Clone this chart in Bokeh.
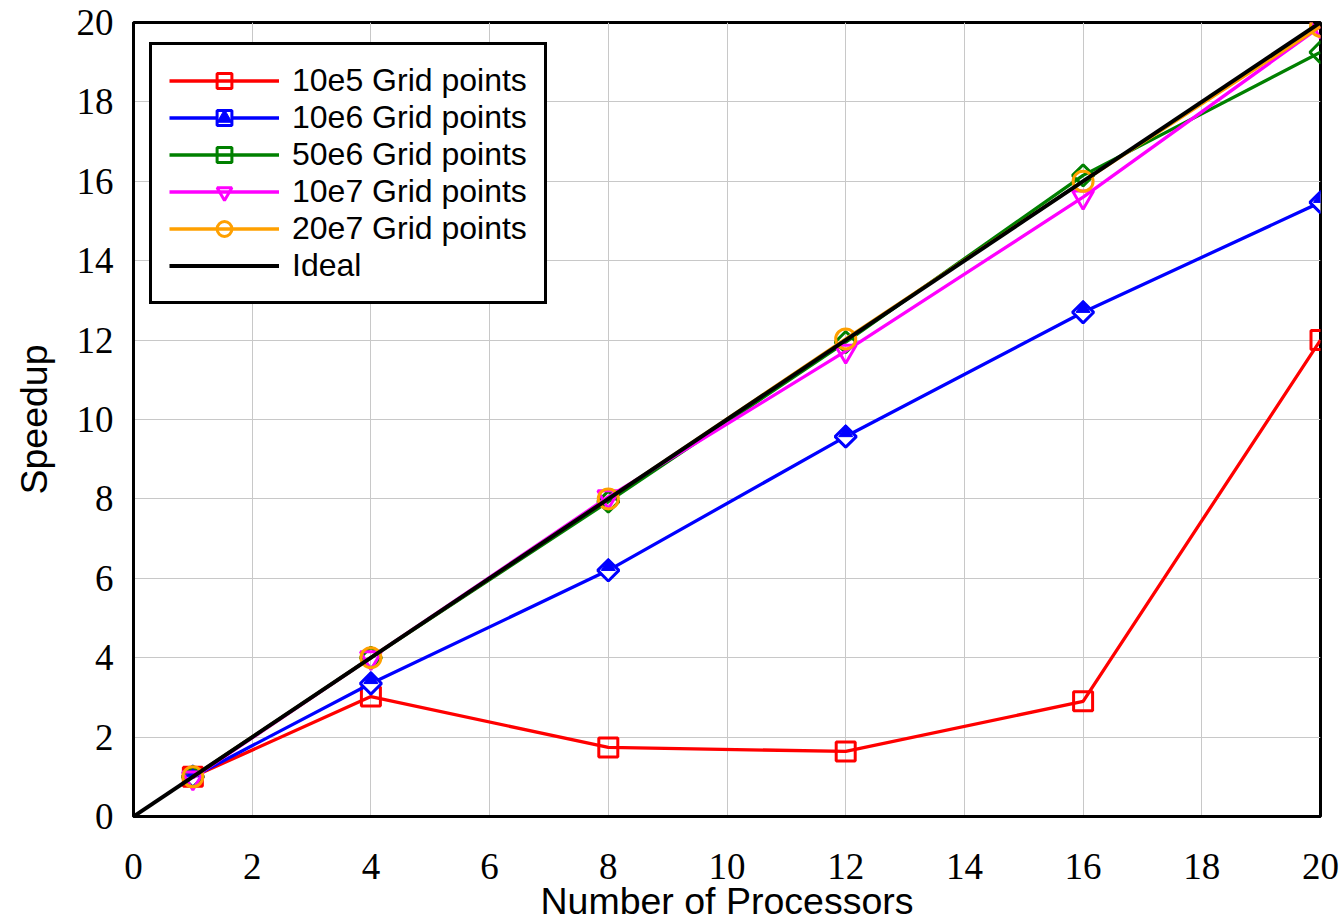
from bokeh.plotting import figure
from bokeh.models import Legend, LegendItem, FixedTicker, Range1d
from bokeh.embed import file_html
from bokeh.resources import INLINE
import math

procs = [1, 4, 8, 12, 16, 20]
s_10e5 = [1.0, 3.02, 1.74, 1.64, 2.9, 12.0]
s_10e6 = [1.0, 3.35, 6.2, 9.57, 12.7, 15.47]
s_50e6 = [1.0, 4.0, 7.93, 11.95, 16.15, 19.25]
s_10e7 = [0.97, 4.0, 8.05, 11.72, 15.6, 19.9]
s_20e7 = [1.0, 4.0, 8.0, 12.03, 16.0, 19.9]
ideal_x = [0, 20]
ideal_y = [0, 20]
ticks = list(range(0, 21, 2))

p = figure(width=1344, height=924, output_backend="svg", toolbar_location=None,
           x_range=Range1d(0, 20), y_range=Range1d(0, 20),
           min_border_left=133, min_border_right=24, min_border_top=22, min_border_bottom=108)
p.background_fill_color = "white"
p.border_fill_color = "white"
p.outline_line_color = "black"
p.outline_line_width = 3
p.outline_line_alpha = 1.0

for ax in (p.xaxis, p.yaxis):
    ax.ticker = FixedTicker(ticks=ticks)
    ax.major_tick_line_color = None
    ax.minor_tick_line_color = None
    ax.axis_line_color = "black"
    ax.axis_line_width = 3
    ax.major_label_text_font = "Liberation Serif"
    ax.major_label_text_font_size = "37px"
    ax.major_label_text_color = "black"
    ax.axis_label_text_font = "Liberation Sans"
    ax.axis_label_text_font_size = "37.5px"
    ax.axis_label_text_font_style = "normal"
    ax.axis_label_text_color = "black"

p.xaxis.axis_label = "Number of Processors"
p.yaxis.axis_label = "Speedup"
p.xaxis.major_label_standoff = 31
p.xaxis.axis_label_standoff = -2
p.yaxis.major_label_standoff = 14
p.yaxis.axis_label_standoff = 19

p.xgrid.ticker = FixedTicker(ticks=ticks)
p.ygrid.ticker = FixedTicker(ticks=ticks)
p.grid.grid_line_color = "#c8c8c8"
p.grid.grid_line_width = 1

lw = 3.3
red, blue, green, mag, orange = "#ff0000", "#0000ff", "#008000", "#ff00ff", "#ffa000"

r1l = p.line(procs, s_10e5, line_color=red, line_width=lw)
r1m = p.scatter(procs, s_10e5, marker="square", size=19, line_color=red, line_width=3, fill_color=None)

r2l = p.line(procs, s_10e6, line_color=blue, line_width=lw)
r2m = p.scatter(procs, s_10e6, marker="square", angle=math.pi / 4, size=15, line_color=blue, line_width=3, fill_color="white")
r2t = p.scatter(x=procs, y=[v + 0.1 for v in s_10e6], marker="triangle", size=14, line_color=blue, line_width=1, fill_color=blue)

r3l = p.line(procs, s_50e6, line_color=green, line_width=lw)
r3m = p.scatter(procs, s_50e6, marker="square", angle=math.pi / 4, size=15, line_color=green, line_width=3, fill_color=None)

r4l = p.line(procs, s_10e7, line_color=mag, line_width=lw)
r4m = p.scatter(procs, s_10e7, marker="inverted_triangle", size=21, line_color=mag, line_width=3, fill_color=None)

r5l = p.line(procs, s_20e7, line_color=orange, line_width=lw)
r5m = p.scatter(procs, s_20e7, marker="circle", size=20, line_color=orange, line_width=3, fill_color=None)

r6 = p.line(ideal_x, ideal_y, line_color="black", line_width=4)

legend = Legend(items=[
    LegendItem(label="10e5 Grid points", renderers=[r1l, r1m]),
    LegendItem(label="10e6 Grid points", renderers=[r2l, r2m, r2t]),
    LegendItem(label="50e6 Grid points", renderers=[r3l, r3m]),
    LegendItem(label="10e7 Grid points", renderers=[r4l, r4m]),
    LegendItem(label="20e7 Grid points", renderers=[r5l, r5m]),
    LegendItem(label="Ideal", renderers=[r6]),
], location=(16, 512))
legend.margin = 0
legend.padding = 17
legend.spacing = 0
legend.glyph_width = 110
legend.glyph_height = 37
legend.label_height = 37
legend.label_standoff = 13
legend.label_text_font = "Liberation Sans"
legend.label_text_font_size = "32px"
legend.label_text_color = "black"
legend.border_line_color = "black"
legend.border_line_alpha = 1.0
legend.border_line_width = 3
legend.background_fill_color = "white"
legend.background_fill_alpha = 1.0
p.add_layout(legend, "center")

open("out.html", "w").write(file_html(p, INLINE))
